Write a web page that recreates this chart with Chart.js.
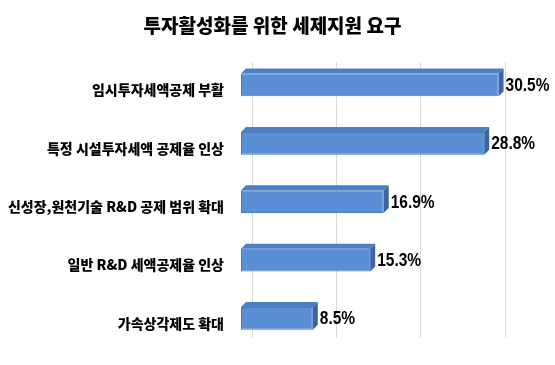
<!DOCTYPE html>
<html>
<head>
<meta charset="utf-8">
<script src="https://cdn.jsdelivr.net/npm/chart.js@4"></script>
<style>
  html, body { margin: 0; padding: 0; background: #fff; }
  #wrap { width: 555px; height: 365px; }
</style>
</head>
<body>
<div id="wrap"><canvas id="myChart"></canvas></div>
<script>
// data
const categories = [
  '임시투자세액공제 부활',
  '특정 시설투자세액 공제율 인상',
  '신성장,원천기술 R&D 공제 범위 확대',
  '일반 R&D 세액공제율 인상',
  '가속상각제도 확대'
];
const values = [30.5, 28.8, 16.9, 15.3, 8.5];
const gridTicks = [0, 10, 20, 30];

const DEPTH = 5;

// fake 3d look for the bars + back gridlines
const bar3d = {
  id: 'bar3d',
  beforeDatasetsDraw(chart) {
    const ctx = chart.ctx;
    const xs = chart.scales.x;
    const area = chart.chartArea;
    ctx.save();
    ctx.strokeStyle = '#d9d9d9';
    ctx.lineWidth = 1;
    gridTicks.forEach(v => {
      const px = Math.round(xs.getPixelForValue(v) + 10.5) + 0.5;
      ctx.beginPath();
      ctx.moveTo(px, area.top + 6);
      ctx.lineTo(px, area.bottom - 10);
      ctx.stroke();
    });
    ctx.restore();
  },
  afterDatasetsDraw(chart) {
    const ctx = chart.ctx;
    const meta = chart.getDatasetMeta(0);
    ctx.save();
    meta.data.forEach((bar, i) => {
      const x = bar.x, base = bar.base;
      const top = bar.y - bar.height / 2;
      const bot = bar.y + bar.height / 2;
      const d = DEPTH;
      // top face
      ctx.fillStyle = '#4d7fc4';
      ctx.beginPath();
      ctx.moveTo(base, top);
      ctx.lineTo(base + d, top - d);
      ctx.lineTo(x + d, top - d);
      ctx.lineTo(x, top);
      ctx.closePath();
      ctx.fill();
      // right face
      ctx.fillStyle = '#3a64a3';
      ctx.beginPath();
      ctx.moveTo(x, top);
      ctx.lineTo(x + d, top - d);
      ctx.lineTo(x + d, bot - d);
      ctx.lineTo(x, bot);
      ctx.closePath();
      ctx.fill();

      // value label, squeezed to look like a narrow face
      ctx.save();
      ctx.translate(x + d + 2, bar.y + 1);
      ctx.scale(0.86, 1);
      ctx.fillStyle = '#000';
      ctx.font = 'bold 18px "Liberation Sans", Arial, sans-serif';
      ctx.textAlign = 'left';
      ctx.textBaseline = 'middle';
      ctx.fillText(values[i].toFixed(1) + '%', 0, 0);
      ctx.restore();
    });
    ctx.restore();
  }
};

const config = {
  type: 'bar',
  data: {
    labels: categories,
    datasets: [{
      data: values,
      backgroundColor: '#5a8fd6',
      borderColor: '#4a7cc0',
      borderWidth: 1,
      borderSkipped: false,
      categoryPercentage: 1,
      barPercentage: 0.39
    }]
  },
  options: {
    indexAxis: 'y',
    responsive: true,
    maintainAspectRatio: false,
    animation: false,
    layout: { padding: { left: 0, right: 10, top: 0, bottom: 12 } },
    plugins: {
      legend: { display: false },
      tooltip: { enabled: false },
      title: {
        display: true,
        text: '투자활성화를 위한 세제지원 요구',
        color: '#000',
        font: { family: '"Noto Sans CJK KR", sans-serif', size: 19, weight: 900 },
        padding: { top: 14, bottom: 19 }
      }
    },
    scales: {
      x: {
        display: false,
        min: 0,
        max: 36
      },
      y: {
        grid: { display: false },
        border: { display: false },
        afterFit(scale) { scale.width = 241; },
        ticks: {
          color: '#000',
          padding: 9,
          labelOffset: 5,
          font: { family: '"Noto Sans CJK KR", sans-serif', size: 14, weight: 900 }
        }
      }
    }
  },
  plugins: [bar3d]
};

var myChart = new Chart(document.getElementById('myChart'), config);
</script>
</body>
</html>
